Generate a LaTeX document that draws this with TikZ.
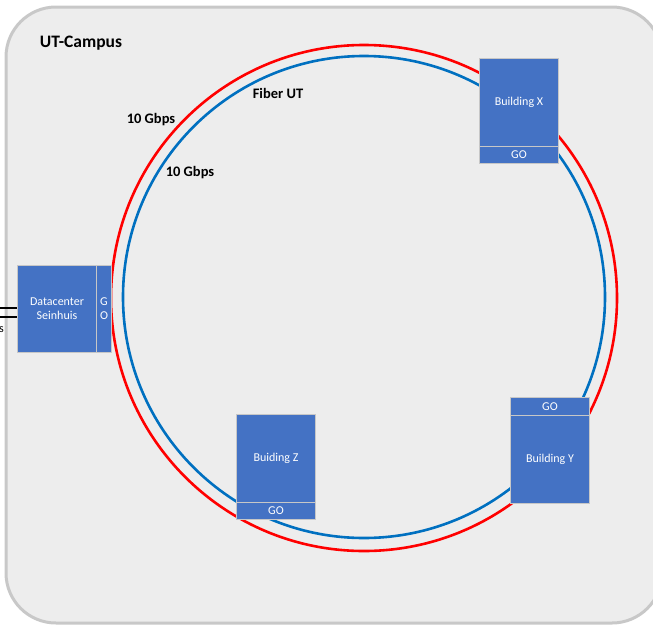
\documentclass[tikz,border=0pt]{standalone}
\usepackage{fontspec}
\setmainfont{Carlito}
\definecolor{boxblue}{RGB}{68,114,196}
\definecolor{fiberblue}{RGB}{0,112,192}
\definecolor{campusbg}{RGB}{237,237,237}
\definecolor{campusline}{RGB}{200,200,200}
\tikzset{
  bldg/.style={draw=black!22, line width=1pt, fill=boxblue, text=white, inner sep=0pt,
    anchor=north west, align=center, font=\fontsize{12}{14}\selectfont},
  lbl/.style={font=\fontsize{14.5}{16}\selectfont\bfseries, inner sep=0pt}
}
\begin{document}
\begin{tikzpicture}[x=1pt,y=-1pt]
	\useasboundingbox (0,0) rectangle (653,627);
	%campus
	\begin{scope}
		\clip (0,0) rectangle (653,627);
		\draw[campusline, fill=campusbg, line width=3pt, rounded corners=50pt] (6,7) rectangle (662,623);
	\end{scope}
	\node[font=\fontsize{17.5}{20}\selectfont\bfseries, inner sep=0pt] (campus) at (81,43) {UT-Campus};
	%fiber rings
	\draw[red, line width=2.6pt] (364,298) circle[radius=253];
	\draw[fiberblue, line width=2.6pt] (364,297) circle[radius=241];
	\node[lbl] (redbw) at (151,120) {10 Gbps};
	\node[lbl] (fiber) at (278,93) {Fiber UT};
	\node[lbl] (bluebw) at (190,173) {10 Gbps};
	%datacenter
	\node[bldg, minimum width=79pt, minimum height=87pt] (dc) at (17,265) {Datacenter\\Seinhuis};
	\node[bldg, minimum width=15pt, minimum height=87pt] (dcgo) at (96,265) {G\\O};
	\coordinate (up1) at (0,308);
	\coordinate (up2) at (0,317);
	\draw[line width=2.5pt] (up1) -- (up1 -| dc.west);
	\draw[line width=2.5pt] (up2) -- (up2 -| dc.west);
	\node[anchor=east, inner sep=0pt, font=\fontsize{12}{14}\selectfont] (uplbl) at (4,330) {s};
	%buildings
	\node[bldg, minimum width=79pt, minimum height=88pt] (bx) at (479,58) {Building X};
	\node[bldg, minimum width=79pt, minimum height=17pt] (bxgo) at (479,146) {GO};
	\node[bldg, minimum width=79pt, minimum height=18pt] (bygo) at (510,397) {GO};
	\node[bldg, minimum width=79pt, minimum height=88pt] (by) at (510,415) {Building Y};
	\node[bldg, minimum width=79pt, minimum height=88pt] (bz) at (236,414) {Buiding Z};
	\node[bldg, minimum width=79pt, minimum height=17pt] (bzgo) at (236,502) {GO};
\end{tikzpicture}
\end{document}
